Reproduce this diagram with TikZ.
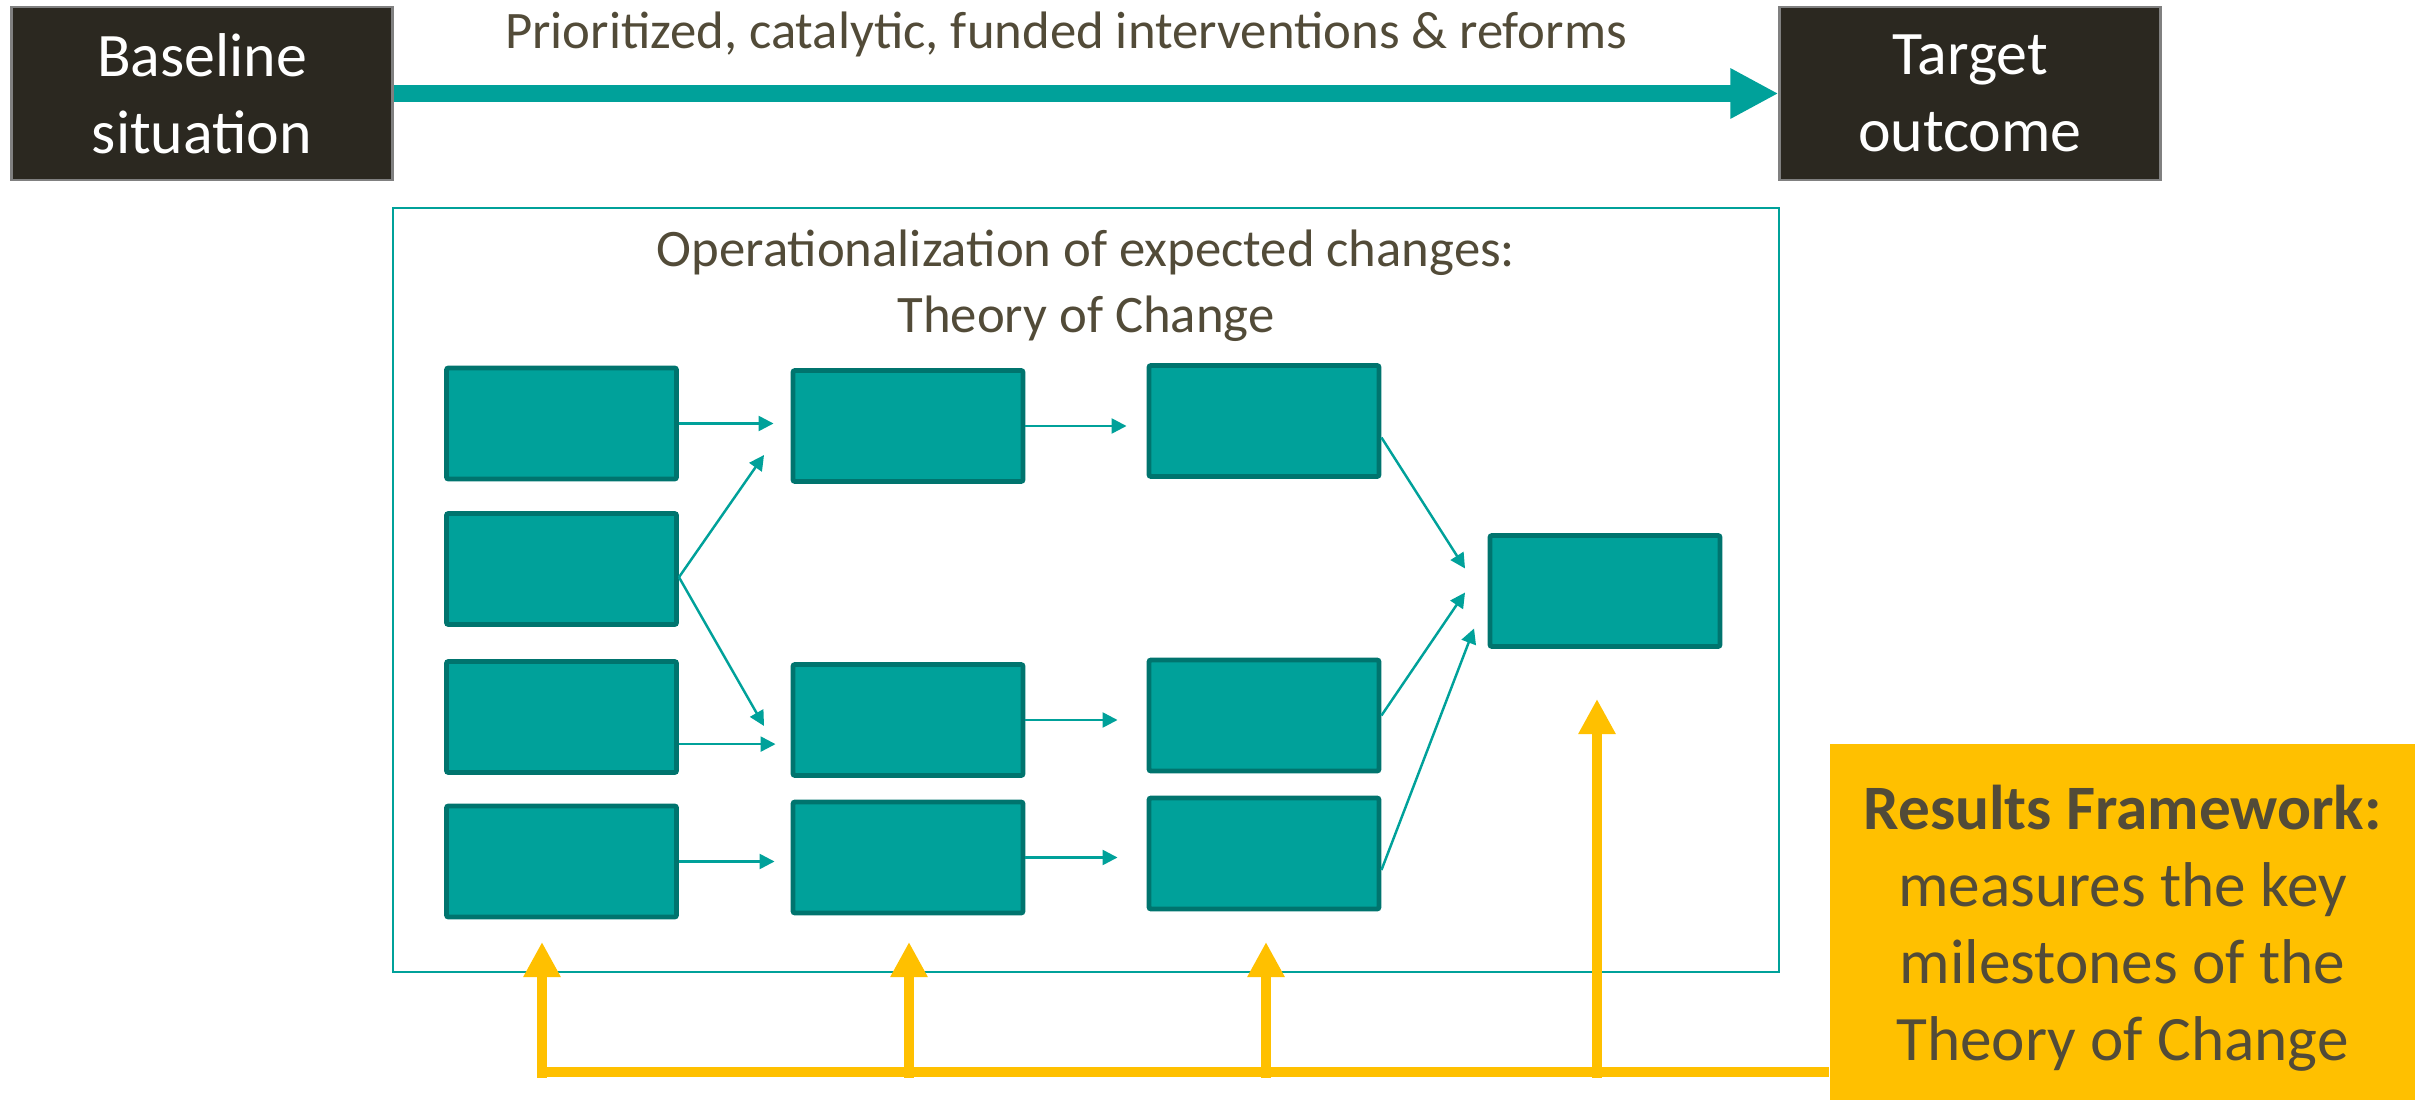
\documentclass[tikz,border=0pt]{standalone}
\usepackage{fontspec}
\setmainfont{Carlito}
\usetikzlibrary{arrows.meta,calc,positioning}
\definecolor{tocteal}{RGB}{0,161,154}
\definecolor{tocdark}{RGB}{0,116,110}
\definecolor{tocink}{RGB}{82,75,56}
\definecolor{tocblack}{RGB}{43,40,32}
\definecolor{tocgold}{RGB}{255,192,0}
\tikzset{every picture/.style={
  >={Triangle[length=0.15cm,width=0.15cm]}   % small filled tips.
  }
}

\begin{document}
\begin{tikzpicture}[
        endpoint/.style={
          rectangle,
          fill=tocblack,
          draw=black!50,
          line width=0.6pt,
          minimum width=3.81cm,
          minimum height=1.73cm,
          text=white,
          align=center,
          font=\fontsize{17.6}{22}\selectfont,
        },
        milestone/.style={
          rectangle,
          rounded corners=0.6pt,
          fill=tocteal,
          draw=tocdark,
          line width=1.4pt,
          minimum width=2.30cm,
          minimum height=1.11cm,
          inner sep=0pt,
        },
        caption/.style={
          text=tocink,
          align=center,
          inner sep=0pt,
          font=\fontsize{15}{18.8}\selectfont,
        },
        link/.style={->,tocteal,line width=0.7pt},
        feed/.style={-{Triangle[length=0.35cm,width=0.35cm]},tocgold,line width=3.1pt},
      ]
      \useasboundingbox (0,0) rectangle (24.15,-11);
      % start, goal and the main path
      \node[endpoint] (baseline) at (2.02,-0.935) {Baseline\\situation};
      \node[endpoint] (target) at (19.70,-0.935) {Target\\outcome};
      \draw[tocteal,line width=4.6pt,-{Triangle[length=0.48cm,width=0.47cm]}]
        (baseline.east) -- (target.west);
      \node[caption,anchor=base] (means) at (10.66,-0.49)
        {Prioritized, catalytic, funded interventions \& reforms};

      % theory of change frame
      \node[draw=tocteal,line width=0.6pt,minimum width=13.86cm,
        minimum height=7.64cm] (toc) at (10.86,-5.90) {};
      \node[caption,anchor=north] (title) at ([yshift=-0.22cm]toc.north)
        {Operationalization of expected changes:\\Theory of Change};

      \node[milestone] (r1c1) at (5.615,-4.235) {};
      \node[milestone] (r2c1) at (5.615,-5.69) {};
      \node[milestone] (r3c1) at (5.615,-7.17) {};
      \node[milestone] (r4c1) at (5.615,-8.615) {};
      \node[milestone] (r1c2) at (9.08,-4.26) {};
      \node[milestone] (r3c2) at (9.08,-7.20) {};
      \node[milestone] (r4c2) at (9.08,-8.575) {};
      \node[milestone] (r1c3) at (12.64,-4.21) {};
      \node[milestone] (r3c3) at (12.64,-7.155) {};
      \node[milestone] (r4c3) at (12.64,-8.535) {};
      \node[milestone] (goal) at (16.05,-5.91) {};

      \draw[link,shorten >=0.17cm] (r1c1.east) -- (r1c1.east -| r1c2.west);
      \draw[link,shorten >=0.15cm] (r3c1.-13) -- (r3c1.-13 -| r3c2.west);
      \draw[link,shorten >=0.16cm] (r4c1.east) -- (r4c1.east -| r4c2.west);
      \draw[link] (r2c1.-4) -- ($(r1c2.west)+(-0.265,-0.29)$);
      \draw[link] (r2c1.-4) -- ($(r3c2.west)+(-0.265,-0.06)$);
      \draw[link,shorten >=0.2cm] (r1c2.east) -- (r1c2.east -| r1c3.west);
      \draw[link,shorten >=0.29cm] (r3c2.east) -- (r3c2.east -| r3c3.west);
      \draw[link,shorten >=0.29cm] (r4c2.east) -- (r4c2.east -| r4c3.west);
      \draw[link] (r1c3.-8) -- ($(goal.west)+(-0.225,0.225)$);
      \draw[link] (r3c3.east) -- ($(goal.west)+(-0.225,-0.015)$);
      \draw[link] (r4c3.-8) -- ($(goal.west)+(-0.135,-0.375)$);

      % results framework and its feedback lines
      \node[fill=tocgold,minimum width=5.85cm,minimum height=3.56cm]
        (rf) at (21.225,-9.22) {};
      \node[text=tocink,align=center,font=\fontsize{18}{21.9}\selectfont]
        (rftext) at ([yshift=-0.06cm]rf.center)
        {\textbf{Results Framework:}\\measures the key\\milestones of the\\Theory of Change};
      \coordinate (bus) at (5.42,-10.72);
      \draw[tocgold,line width=3.1pt] (bus) -- (bus -| rf.west);
      \foreach \x in {5.42,9.09,12.66}
        \draw[feed] (\x,-10.775) -- (\x,-9.42);
      \draw[feed] (15.97,-10.775) -- (15.97,-6.99);
\end{tikzpicture}
\end{document}
